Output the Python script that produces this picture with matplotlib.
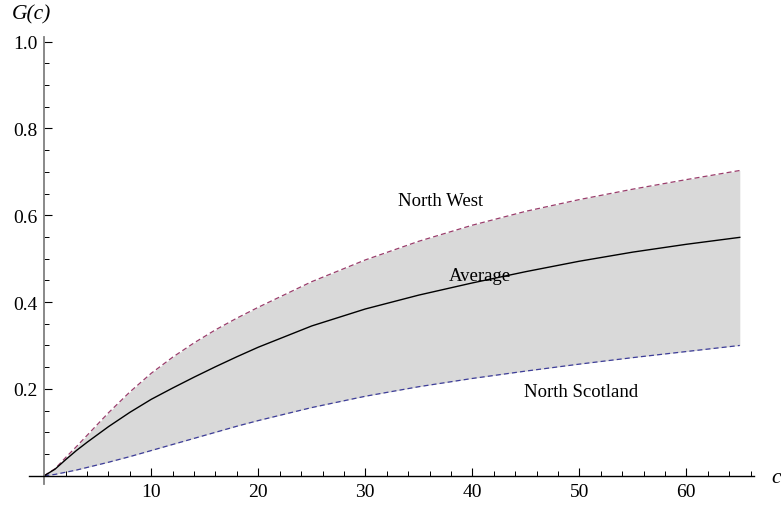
import numpy as np
import matplotlib.pyplot as plt
from matplotlib.ticker import FixedLocator

plt.rcParams['font.family'] = ['Liberation Serif', 'DejaVu Serif']

# values
c = [0, 1, 2, 3, 4, 6, 8, 10, 12, 14, 16, 18, 20, 25, 30, 35, 40, 45, 50, 55, 60, 65]
north_west = [0, 0.016, 0.042, 0.067, 0.093, 0.145, 0.193, 0.236, 0.273, 0.306, 0.336,
              0.363, 0.388, 0.447, 0.497, 0.54, 0.577, 0.609, 0.636, 0.66, 0.682, 0.703]
average = [0, 0.015, 0.037, 0.058, 0.077, 0.113, 0.146, 0.176, 0.202, 0.227, 0.251,
           0.274, 0.296, 0.345, 0.384, 0.416, 0.444, 0.47, 0.494, 0.515, 0.533, 0.549]
north_scotland = [0, 0.003, 0.008, 0.013, 0.019, 0.031, 0.044, 0.058, 0.072, 0.086, 0.1,
                  0.114, 0.127, 0.157, 0.183, 0.205, 0.224, 0.241, 0.257, 0.272, 0.286, 0.30]

labels = ["North West", "Average", "North Scotland"]
label_pos = [(37.0, 0.633), (40.7, 0.462), (50.2, 0.195)]

purple = (0.6, 0.24, 0.42)
blue = (0.24, 0.24, 0.6)

fig = plt.figure(figsize=(7.81, 5.10), dpi=100)
ax = fig.add_axes([0, 0, 1, 1])
ax.set_xlim(-4.14, 68.85)
ax.set_ylim(-0.0767, 1.098)

ax.fill_between(c, north_scotland, north_west, color='#d9d9d9', lw=0)
ax.plot(c, north_west, color=purple, lw=0.9, dashes=(4, 2.5))
ax.plot(c, north_scotland, color=blue, lw=0.9, dashes=(4, 2.5))
ax.plot(c, average, color='black', lw=1.0)

for txt, (x, y) in zip(labels, label_pos):
    ax.text(x, y, txt, fontsize=13.5, ha='center', va='center')

# Mathematica-like axes crossing at the origin
for s in ['top', 'right']:
    ax.spines[s].set_visible(False)
ax.spines['left'].set_position(('data', 0))
ax.spines['bottom'].set_position(('data', 0))
ax.spines['left'].set_bounds(-0.02, 1.01)
ax.spines['bottom'].set_bounds(-1.4, 66.3)
ax.spines['left'].set_color('#808080')
ax.spines['left'].set_linewidth(1.3)
ax.spines['bottom'].set_linewidth(1.0)

ax.set_xticks([10, 20, 30, 40, 50, 60])
ax.xaxis.set_minor_locator(FixedLocator([v for v in range(2, 67, 2) if v % 10]))
ax.set_yticks([0.2, 0.4, 0.6, 0.8, 1.0])
ax.set_yticklabels(['0.2', '0.4', '0.6', '0.8', '1.0'])
ax.yaxis.set_minor_locator(FixedLocator([0.05 * k for k in range(1, 20) if k % 4]))
ax.tick_params(which='both', direction='in', labelsize=14)
ax.tick_params(which='major', length=6, width=0.8, pad=5)
ax.tick_params(which='minor', length=3.5, width=0.7)

ax.text(-1.2, 1.064, 'G(c)', fontsize=15.5, style='italic', ha='center', va='center')
ax.text(68.4, -0.005, 'c', fontsize=15.5, style='italic', ha='center', va='center')

fig.savefig('out.png', dpi=100)
